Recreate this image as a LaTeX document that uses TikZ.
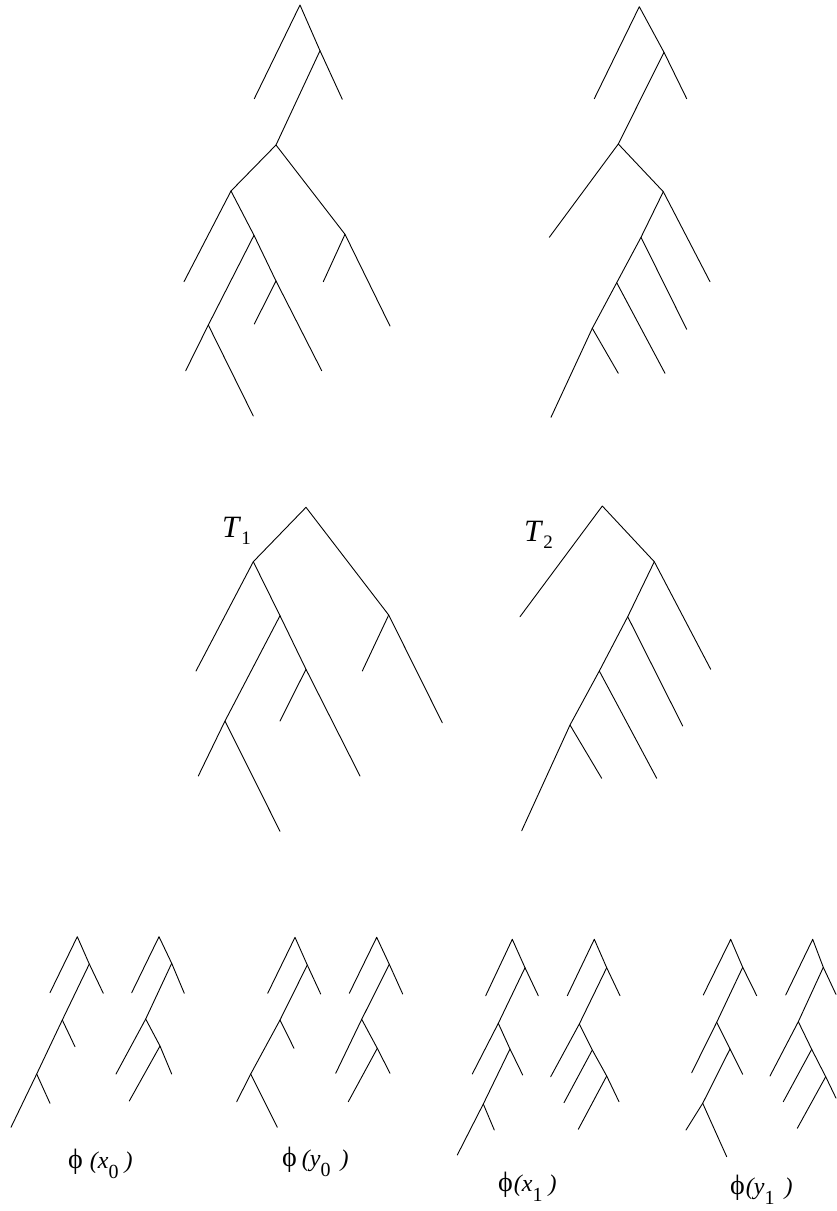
\documentclass[tikz,border=0pt]{standalone}
\usepackage{fontspec}
\setmainfont{Liberation Serif}
\tikzset{
  branch/.style={line width=0.9pt, line join=round, line cap=round},
  treelab/.style={anchor=base west, inner sep=0pt, font=\fontsize{31}{31}\selectfont},
  philab/.style={anchor=base west, inner sep=0pt, font=\fontsize{24}{24}\selectfont}
}
\newcommand{\dropsub}[3]{\raisebox{-#1}{\fontsize{#2}{#2}\selectfont #3}}
\newcommand{\bigphi}{{\fontsize{28}{28}\selectfont ϕ}}

\begin{document}
\begin{tikzpicture}[x=1pt, y=-1pt]
  \useasboundingbox (0,0) rectangle (836,1211);
  % upper left tree
  \begin{scope}[name prefix=ul-]
    \coordinate (r) at (300,5);      \coordinate (v1) at (320,50.7);
    \coordinate (v2) at (276,145);   \coordinate (v3) at (231,191);
    \coordinate (v4) at (345,234.3); \coordinate (v5) at (254,235.3);
    \coordinate (v6) at (276,281);   \coordinate (v7) at (208.3,325);
    \coordinate (l1) at (254.3,98.7); \coordinate (l2) at (342.3,99.3);
    \coordinate (l3) at (184,281.7);  \coordinate (l4) at (323.3,281.7);
    \coordinate (l5) at (390,326);    \coordinate (l6) at (254.3,324);
    \coordinate (l7) at (321.7,370.7); \coordinate (l8) at (185.7,370.7);
    \coordinate (l9) at (253.3,416);
    \draw[branch] (l1) -- (r) -- (v1) -- (l2);
    \draw[branch] (v1) -- (v2) -- (v4) -- (l5);
    \draw[branch] (v2) -- (v3) -- (l3);
    \draw[branch] (v3) -- (v5) -- (v6) -- (l7);
    \draw[branch] (v5) -- (v7) -- (l8);
    \draw[branch] (v7) -- (l9);
    \draw[branch] (v6) -- (l6);
    \draw[branch] (v4) -- (l4);
  \end{scope}
  % upper right tree
  \begin{scope}[name prefix=ur-]
    \coordinate (r) at (639.3,6.7);   \coordinate (v1) at (664,52.3);
    \coordinate (v2) at (618.3,144);  \coordinate (v3) at (663.3,191.7);
    \coordinate (v4) at (641,237.3);  \coordinate (v5) at (616.7,282.7);
    \coordinate (v6) at (592.3,328.3);
    \coordinate (l1) at (594.3,98.7); \coordinate (l2) at (686.7,98.7);
    \coordinate (l3) at (549.3,237.3); \coordinate (l4) at (710,281.7);
    \coordinate (l5) at (686.7,329.3); \coordinate (l6) at (665,373.3);
    \coordinate (l7) at (618.3,373.3); \coordinate (l8) at (551,417.3);
    \draw[branch] (l1) -- (r) -- (v1) -- (l2);
    \draw[branch] (v1) -- (v2) -- (l3);
    \draw[branch] (v2) -- (v3) -- (l4);
    \draw[branch] (v3) -- (v4) -- (l5);
    \draw[branch] (v4) -- (v5) -- (l6);
    \draw[branch] (v5) -- (v6) -- (l7);
    \draw[branch] (v6) -- (l8);
  \end{scope}
  % T_1
  \begin{scope}[name prefix=ta-]
    \coordinate (r) at (306,507.3);   \coordinate (v1) at (253.3,561.7);
    \coordinate (v2) at (388.7,615);  \coordinate (v3) at (280,615.7);
    \coordinate (v4) at (306,669.3);  \coordinate (v5) at (225,721);
    \coordinate (l1) at (196,671);    \coordinate (l2) at (362.3,671);
    \coordinate (l3) at (442.3,722.7); \coordinate (l4) at (280,721);
    \coordinate (l5) at (360,776);    \coordinate (l6) at (198.3,776);
    \coordinate (l7) at (280,831.3);
    \draw[branch] (l1) -- (v1) -- (r) -- (v2) -- (l3);
    \draw[branch] (v2) -- (l2);
    \draw[branch] (v1) -- (v3) -- (v4) -- (l5);
    \draw[branch] (v4) -- (l4);
    \draw[branch] (v3) -- (v5) -- (l6);
    \draw[branch] (v5) -- (l7);
  \end{scope}
  \node[treelab] (t1) at (222,537) {\textit{T}\dropsub{7pt}{19}{1}};
  % T_2
  \begin{scope}[name prefix=tb-]
    \coordinate (r) at (602.3,506);   \coordinate (v1) at (654.3,561.7);
    \coordinate (v2) at (627.7,616.7); \coordinate (v3) at (599.3,671);
    \coordinate (v4) at (570,725);
    \coordinate (l1) at (520,616.7);  \coordinate (l2) at (710.7,669.3);
    \coordinate (l3) at (682.7,726);  \coordinate (l4) at (656.7,778.3);
    \coordinate (l5) at (601.7,778.3); \coordinate (l6) at (521.7,830.7);
    \draw[branch] (l1) -- (r) -- (v1) -- (l2);
    \draw[branch] (v1) -- (v2) -- (l3);
    \draw[branch] (v2) -- (v3) -- (l4);
    \draw[branch] (v3) -- (v4) -- (l5);
    \draw[branch] (v4) -- (l6);
  \end{scope}
  \node[treelab] (t2) at (524,541) {\textit{T}\dropsub{7pt}{19}{2}};
  % phi(x_0)
  \begin{scope}[name prefix=xa-]
    \coordinate (r) at (77.3,936.7);  \coordinate (v1) at (89.3,964);
    \coordinate (v2) at (62.3,1020);  \coordinate (v3) at (36.7,1074);
    \coordinate (l1) at (50,992.7);   \coordinate (l2) at (103.3,993.3);
    \coordinate (l3) at (75,1046.7);  \coordinate (l4) at (50,1103.3);
    \coordinate (l5) at (11,1127.3);
    \draw[branch] (l1) -- (r) -- (v1) -- (l2);
    \draw[branch] (v1) -- (v2) -- (l3);
    \draw[branch] (v2) -- (v3) -- (l4);
    \draw[branch] (v3) -- (l5);
  \end{scope}
  \begin{scope}[name prefix=xb-]
    \coordinate (r) at (159,936.7);   \coordinate (v1) at (171.7,963.3);
    \coordinate (v2) at (145.7,1019); \coordinate (v3) at (160,1046);
    \coordinate (l1) at (131.7,992.7); \coordinate (l2) at (184.3,993.3);
    \coordinate (l3) at (116,1074);   \coordinate (l4) at (129.3,1101);
    \coordinate (l5) at (171.7,1074);
    \draw[branch] (l1) -- (r) -- (v1) -- (l2);
    \draw[branch] (v1) -- (v2) -- (l3);
    \draw[branch] (v2) -- (v3) -- (l4);
    \draw[branch] (v3) -- (l5);
  \end{scope}
  \node[philab] (px0) at (68,1168) {\bigphi\hspace{7pt}\textit{(x}\dropsub{10pt}{20}{0}\hspace{6pt}\textit{)}};
  % phi(y_0)
  \begin{scope}[name prefix=ya-]
    \coordinate (r) at (295,937.3);   \coordinate (v1) at (307.3,965);
    \coordinate (v2) at (280,1020);   \coordinate (v3) at (250.7,1074);
    \coordinate (l1) at (267.7,993.3); \coordinate (l2) at (320.7,994);
    \coordinate (l3) at (294,1048.3); \coordinate (l4) at (236.7,1101.7);
    \coordinate (l5) at (277.3,1127.3);
    \draw[branch] (l1) -- (r) -- (v1) -- (l2);
    \draw[branch] (v1) -- (v2) -- (l3);
    \draw[branch] (v2) -- (v3) -- (l4);
    \draw[branch] (v3) -- (l5);
  \end{scope}
  \begin{scope}[name prefix=yb-]
    \coordinate (r) at (376.7,937.3); \coordinate (v1) at (389.3,964.3);
    \coordinate (v2) at (361.7,1019.3); \coordinate (v3) at (377.3,1048.3);
    \coordinate (l1) at (349.3,993.3); \coordinate (l2) at (402.7,994);
    \coordinate (l3) at (335.7,1073.3); \coordinate (l4) at (348.3,1101.7);
    \coordinate (l5) at (390,1073.3);
    \draw[branch] (l1) -- (r) -- (v1) -- (l2);
    \draw[branch] (v1) -- (v2) -- (l3);
    \draw[branch] (v2) -- (v3) -- (l4);
    \draw[branch] (v3) -- (l5);
  \end{scope}
  \node[philab] (py0) at (282,1166) {\bigphi\hspace{5pt}\textit{(y}\dropsub{10pt}{20}{0}\hspace{10pt}\textit{)}};
  % phi(x_1)
  \begin{scope}[name prefix=xc-]
    \coordinate (r) at (512.3,939.3); \coordinate (v1) at (525,967.7);
    \coordinate (v2) at (498.3,1023.3); \coordinate (v3) at (510,1049);
    \coordinate (v4) at (483.3,1104);
    \coordinate (l1) at (485.7,995.7); \coordinate (l2) at (538.3,995.7);
    \coordinate (l3) at (472.3,1074); \coordinate (l4) at (522.7,1075);
    \coordinate (l5) at (494.3,1130); \coordinate (l6) at (457.3,1155);
    \draw[branch] (l1) -- (r) -- (v1) -- (l2);
    \draw[branch] (v1) -- (v2) -- (l3);
    \draw[branch] (v2) -- (v3) -- (l4);
    \draw[branch] (v3) -- (v4) -- (l5);
    \draw[branch] (v4) -- (l6);
  \end{scope}
  \begin{scope}[name prefix=xd-]
    \coordinate (r) at (594.3,939.3); \coordinate (v1) at (606.7,967.7);
    \coordinate (v2) at (579.3,1024); \coordinate (v3) at (592.3,1050);
    \coordinate (v4) at (606.7,1076);
    \coordinate (l1) at (567.3,995.7); \coordinate (l2) at (620,995.7);
    \coordinate (l3) at (550.7,1076.7); \coordinate (l4) at (564,1102.7);
    \coordinate (l5) at (578.3,1129.3); \coordinate (l6) at (619,1101.7);
    \draw[branch] (l1) -- (r) -- (v1) -- (l2);
    \draw[branch] (v1) -- (v2) -- (l3);
    \draw[branch] (v2) -- (v3) -- (l4);
    \draw[branch] (v3) -- (v4) -- (l5);
    \draw[branch] (v4) -- (l6);
  \end{scope}
  \node[philab] (px1) at (498,1191) {\bigphi\hspace{1pt}\textit{(x}\dropsub{10pt}{20}{1}\hspace{6pt}\textit{)}};
  % phi(y_1)
  \begin{scope}[name prefix=yc-]
    \coordinate (r) at (730.7,939.3); \coordinate (v1) at (742.7,967.3);
    \coordinate (v2) at (716.7,1022.3); \coordinate (v3) at (730,1049);
    \coordinate (v4) at (702.7,1103.3);
    \coordinate (l1) at (703.3,995);  \coordinate (l2) at (756.7,995.7);
    \coordinate (l3) at (691.7,1072.7); \coordinate (l4) at (742.7,1074.3);
    \coordinate (l5) at (686,1130);   \coordinate (l6) at (726.7,1156.7);
    \draw[branch] (l1) -- (r) -- (v1) -- (l2);
    \draw[branch] (v1) -- (v2) -- (l3);
    \draw[branch] (v2) -- (v3) -- (l4);
    \draw[branch] (v3) -- (v4) -- (l5);
    \draw[branch] (v4) -- (l6);
  \end{scope}
  \begin{scope}[name prefix=yd-]
    \coordinate (r) at (812.7,939.3); \coordinate (v1) at (823.3,967.3);
    \coordinate (v2) at (798.3,1021.7); \coordinate (v3) at (811.7,1049.3);
    \coordinate (v4) at (825.7,1076.7);
    \coordinate (l1) at (785.7,995);  \coordinate (l2) at (836,994.4);
    \coordinate (l3) at (770,1076);   \coordinate (l4) at (783.3,1101.7);
    \coordinate (l5) at (797.3,1128.3); \coordinate (l6) at (836,1098.1);
    \draw[branch] (l1) -- (r) -- (v1) -- (l2);
    \draw[branch] (v1) -- (v2) -- (l3);
    \draw[branch] (v2) -- (v3) -- (l4);
    \draw[branch] (v3) -- (v4) -- (l5);
    \draw[branch] (v4) -- (l6);
  \end{scope}
  \node[philab] (py1) at (730,1194) {\bigphi\hspace{1pt}\textit{(y}\dropsub{10pt}{20}{1}\hspace{10pt}\textit{)}};
\end{tikzpicture}
\end{document}
